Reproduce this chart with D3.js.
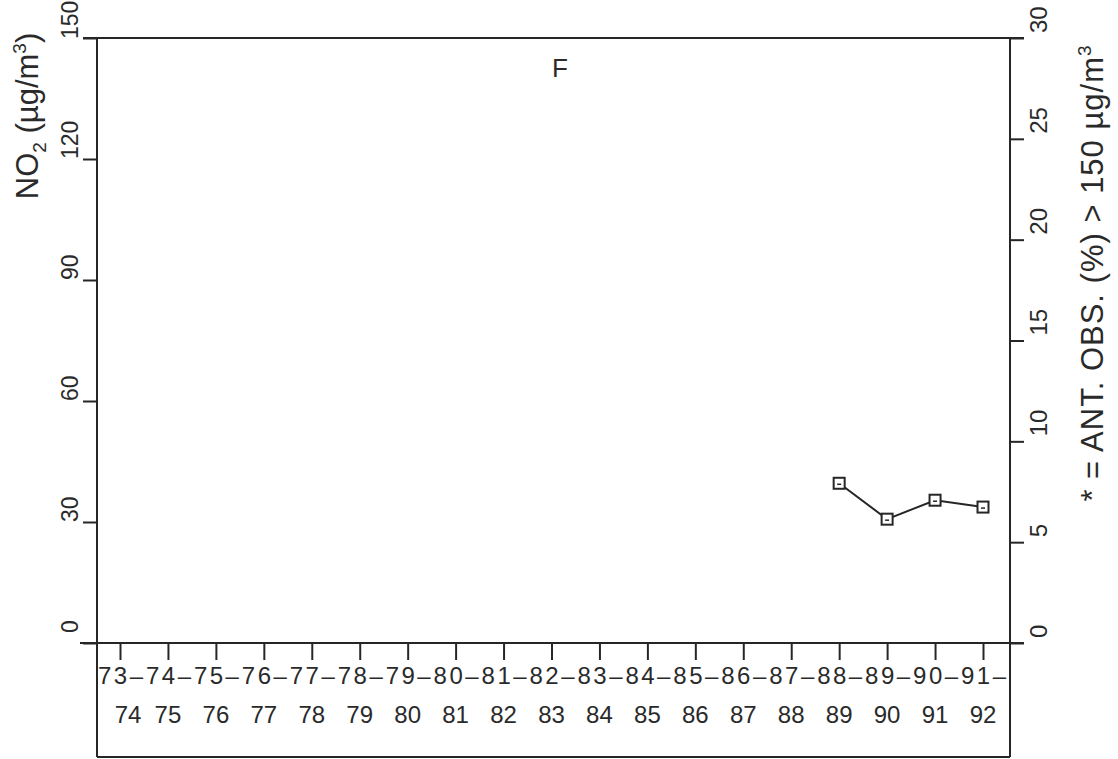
<!DOCTYPE html>
<html>
<head>
<meta charset="utf-8">
<script src="https://cdn.jsdelivr.net/npm/d3@7"></script>
<style>
  html, body { margin: 0; padding: 0; background: #fff; }
  svg { display: block; }
  text { font-family: "Liberation Sans", Arial, sans-serif; fill: #2a2a2a; }
</style>
</head>
<body>
<svg id="chart" width="1118" height="759"></svg>
<script>
// Winter seasons, start year / end year
const startYears = ["73","74","75","76","77","78","79","80","81","82","83","84","85","86","87","88","89","90","91"];
const endYears   = ["74","75","76","77","78","79","80","81","82","83","84","85","86","87","88","89","90","91","92"];
const seasons = startYears.map((s, i) => s + "-" + endYears[i]);

// NO2 winter means (µg/m3), station F
const no2Seasons = ["88-89","89-90","90-91","91-92"];
const no2Values  = [39.6, 30.7, 35.4, 33.7];

// Axis ticks
const leftTicks  = [0, 30, 60, 90, 120, 150];
const rightTicks = [0, 5, 10, 15, 20, 25, 30];

const ink = "#262626";
const svg = d3.select("#chart");

const xLeft = 97, xRight = 1010, yTop = 38, yBase = 643, yBottom = 757;

const x = d3.scalePoint().domain(seasons).range([120, 983]);
const yL = d3.scaleLinear().domain([0, 150]).range([yBase, yTop]);
const yR = d3.scaleLinear().domain([0, 30]).range([yBase, yTop]);

// Left axis
const gL = svg.append("g").attr("transform", `translate(${xLeft},0)`)
  .call(d3.axisLeft(yL).tickValues(leftTicks).tickSize(14).tickFormat(""));
gL.select(".domain").remove();
gL.selectAll("line").attr("stroke", ink).attr("stroke-width", 2);
svg.append("line").attr("x1", xLeft).attr("x2", xLeft).attr("y1", yTop).attr("y2", yBottom)
  .attr("stroke", ink).attr("stroke-width", 2);

// Right axis
const gR = svg.append("g").attr("transform", `translate(${xRight},0)`)
  .call(d3.axisRight(yR).tickValues(rightTicks).tickSize(14).tickFormat(""));
gR.select(".domain").remove();
gR.selectAll("line").attr("stroke", ink).attr("stroke-width", 2);
svg.append("line").attr("x1", xRight).attr("x2", xRight).attr("y1", yTop).attr("y2", yBottom)
  .attr("stroke", ink).attr("stroke-width", 2);

// Top frame line, baseline and bottom frame line
svg.append("line").attr("x1", 83).attr("x2", 1024).attr("y1", yTop).attr("y2", yTop)
  .attr("stroke", ink).attr("stroke-width", 2);
svg.append("line").attr("x1", 80).attr("x2", 1024).attr("y1", yBase).attr("y2", yBase)
  .attr("stroke", ink).attr("stroke-width", 2.2);
svg.append("line").attr("x1", xLeft).attr("x2", xRight).attr("y1", yBottom).attr("y2", yBottom)
  .attr("stroke", ink).attr("stroke-width", 2);

// Left tick labels (rotated)
svg.selectAll(".lt").data(leftTicks).join("text")
  .attr("transform", d => `translate(78,${yL(d) + (d === 0 ? -10 : d === 150 ? 1 : 0)}) rotate(-90)`)
  .attr("text-anchor", "start")
  .style("font-size", "23px")
  .text(d => d);

// Right tick labels (rotated)
svg.selectAll(".rt").data(rightTicks).join("text")
  .attr("transform", d => `translate(1047,${yR(d) - 5}) rotate(-90)`)
  .attr("text-anchor", "start")
  .style("font-size", "24px")
  .text(d => d);

// X axis ticks below baseline
const gX = svg.append("g").attr("transform", `translate(0,${yBase})`)
  .call(d3.axisBottom(x).tickSize(17).tickFormat(""));
gX.select(".domain").remove();
gX.selectAll("line").attr("stroke", ink).attr("stroke-width", 2);

// Two-row season labels
svg.selectAll(".row1").data(seasons).join("text")
  .attr("x", d => x(d) - 22)
  .attr("y", 684)
  .attr("text-anchor", "start")
  .style("font-size", "24px")
  .style("letter-spacing", "2.5px")
  .text((d, i) => startYears[i] + "\u2013");

svg.selectAll(".row2").data(seasons).join("text")
  .attr("x", (d, i) => x(d) + (i === 0 ? 8 : 0))
  .attr("y", 723)
  .attr("text-anchor", "middle")
  .style("font-size", "24px")
  .text((d, i) => endYears[i]);

// Axis titles
const tL = svg.append("text")
  .attr("transform", `translate(38,116) rotate(-90)`)
  .attr("text-anchor", "middle")
  .style("font-size", "31px");
tL.append("tspan").text("NO");
tL.append("tspan").attr("dy", 8).style("font-size", "19px").text("2");
tL.append("tspan").attr("dy", -8).text(" (µg/m");
tL.append("tspan").attr("dy", -12).style("font-size", "19px").text("3");
tL.append("tspan").attr("dy", 12).text(")");

const tR = svg.append("text")
  .attr("transform", `translate(1103,273) rotate(-90)`)
  .attr("text-anchor", "middle")
  .style("font-size", "31px")
  .style("letter-spacing", "1px");
tR.append("tspan").text("* = ANT. OBS. (%) > 150 µg/m");
tR.append("tspan").attr("dy", -12).style("font-size", "19px").text("3");

// Station letter
svg.append("text").attr("x", 560).attr("y", 77).attr("text-anchor", "middle")
  .style("font-size", "26px").text("F");

// NO2 series
const pts = no2Seasons.map((s, i) => ({ s, v: no2Values[i] }));
svg.append("path").datum(pts)
  .attr("fill", "none").attr("stroke", ink).attr("stroke-width", 2)
  .attr("d", d3.line().x(d => x(d.s)).y(d => yL(d.v)));
svg.selectAll(".mk").data(pts).join("rect")
  .attr("x", d => x(d.s) - 5.5).attr("y", d => yL(d.v) - 5.5)
  .attr("width", 11).attr("height", 11)
  .attr("fill", "#fff").attr("stroke", ink).attr("stroke-width", 2);
svg.selectAll(".mkc").data(pts).join("line")
  .attr("x1", d => x(d.s) - 2).attr("x2", d => x(d.s) + 2)
  .attr("y1", d => yL(d.v) + 1).attr("y2", d => yL(d.v) + 1)
  .attr("stroke", ink).attr("stroke-width", 1.5);
</script>
</body>
</html>
